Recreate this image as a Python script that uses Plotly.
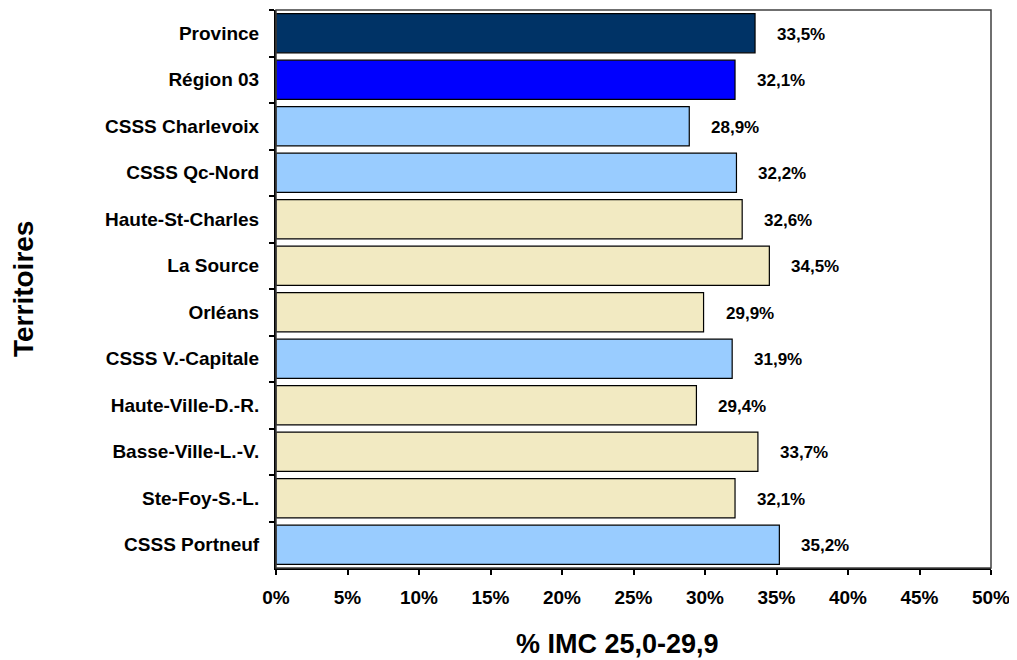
import plotly.graph_objects as go

categories = ["Province", "Région 03", "CSSS Charlevoix", "CSSS Qc-Nord",
              "Haute-St-Charles", "La Source", "Orléans", "CSSS V.-Capitale",
              "Haute-Ville-D.-R.", "Basse-Ville-L.-V.", "Ste-Foy-S.-L.", "CSSS Portneuf"]
values = [33.5, 32.1, 28.9, 32.2, 32.6, 34.5, 29.9, 31.9, 29.4, 33.7, 32.1, 35.2]
groups = ["province", "region", "csss", "csss", "clsc", "clsc", "clsc", "csss",
          "clsc", "clsc", "clsc", "csss"]
group_colors = {"province": "#003366", "region": "#0000FF", "csss": "#99CCFF", "clsc": "#F2EAC2"}
x_ticks = [0, 5, 10, 15, 20, 25, 30, 35, 40, 45, 50]

FONT = "Liberation Sans, Arial, sans-serif"

fig = go.Figure()
fig.add_trace(go.Bar(
    y=categories, x=values, orientation="h",
    marker=dict(color=[group_colors[g] for g in groups],
                line=dict(color="#000000", width=1.2)),
    hoverinfo="skip",
))

for c, v in zip(categories, values):
    fig.add_annotation(x=v, y=c, xref="x", yref="y",
                       text=f"{v:.1f}%".replace(".", ","),
                       showarrow=False, xanchor="left", xshift=20, yshift=-1,
                       font=dict(family=FONT, size=17, color="#000000", weight="bold"))

# axis titles
fig.add_annotation(xref="paper", yref="paper", x=0.5, y=0, xshift=-16, yshift=-76,
                   xanchor="center", yanchor="middle", showarrow=False,
                   text="% IMC 25,0-29,9",
                   font=dict(family=FONT, size=27, color="#000000", weight="bold"))
fig.add_annotation(xref="paper", yref="paper", x=0, y=0.5, xshift=-253,
                   xanchor="center", yanchor="middle", showarrow=False, textangle=-90,
                   text="Territoires",
                   font=dict(family=FONT, size=28, color="#000000", weight="bold"))

fig.update_layout(
    width=1009, height=652,
    margin=dict(l=268, r=26, t=2, b=92),
    paper_bgcolor="white", plot_bgcolor="white",
    bargap=0.16,
    showlegend=False,
    font=dict(family=FONT, color="#000000"),
)
fig.update_xaxes(
    range=[0, 50], tickvals=x_ticks, ticktext=[f"{t}%" for t in x_ticks],
    showgrid=False, zeroline=False,
    showline=True, linecolor="#000000", linewidth=2, mirror=False,
    ticks="outside", ticklen=5, tickwidth=1.5, tickcolor="#000000",
    ticklabelstandoff=6,
    tickfont=dict(family=FONT, size=19, color="#000000", weight="bold"),
)
fig.update_yaxes(
    autorange="reversed", type="category",
    showgrid=False, zeroline=False,
    showline=True, linecolor="#000000", linewidth=2,
    ticks="outside", ticklen=5, tickwidth=1.5, tickcolor="#000000",
    tickson="boundaries", ticklabelstandoff=11,
    tickfont=dict(family=FONT, size=19, color="#000000", weight="bold"),
)
# top/right frame
fig.add_shape(type="rect", xref="paper", yref="paper", x0=0, y0=0, x1=1, y1=1,
              line=dict(color="#404040", width=1.5), layer="above")

fig.write_html("out.html")
